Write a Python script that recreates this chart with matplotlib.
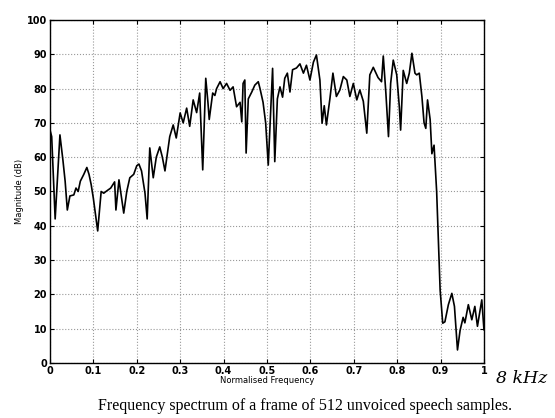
import numpy as np
import matplotlib
matplotlib.use('Agg')
import matplotlib.pyplot as plt

# spectrum values (normalised frequency, dB)
freq = [0.0, 0.004, 0.012, 0.023, 0.03, 0.035, 0.04, 0.046, 0.055, 0.06,
        0.065, 0.07, 0.078, 0.085, 0.09, 0.095, 0.1, 0.11, 0.118, 0.124,
        0.129, 0.14, 0.149, 0.152, 0.159, 0.17, 0.177, 0.184, 0.193, 0.2,
        0.205, 0.211, 0.219, 0.224, 0.23, 0.238, 0.245, 0.253, 0.259, 0.265,
        0.276, 0.284, 0.291, 0.3, 0.307, 0.315, 0.322, 0.33, 0.338, 0.345,
        0.352, 0.359, 0.364, 0.367, 0.375, 0.38, 0.384, 0.392, 0.399, 0.407,
        0.415, 0.422, 0.43, 0.438, 0.442, 0.445, 0.449, 0.452, 0.457, 0.465,
        0.472, 0.48, 0.484, 0.491, 0.497, 0.503, 0.513, 0.518, 0.524, 0.53,
        0.536, 0.541, 0.547, 0.553, 0.559, 0.568, 0.576, 0.584, 0.591, 0.599,
        0.607, 0.614, 0.622, 0.627, 0.632, 0.637, 0.645, 0.652, 0.66, 0.668,
        0.676, 0.684, 0.691, 0.699, 0.707, 0.714, 0.722, 0.73, 0.737, 0.745,
        0.756, 0.764, 0.768, 0.774, 0.78, 0.785, 0.791, 0.799, 0.805, 0.808,
        0.814, 0.822, 0.828, 0.834, 0.841, 0.845, 0.851, 0.857, 0.862, 0.866,
        0.87, 0.876, 0.88, 0.885, 0.891, 0.899, 0.905, 0.91, 0.918, 0.926,
        0.932, 0.939, 0.945, 0.952, 0.956, 0.964, 0.972, 0.979, 0.985, 0.995,
        1.0]
mag = [68, 66, 42, 66.5, 59, 53, 44.6, 48.7, 49, 51,
       50, 53, 55, 57, 55, 52, 48, 38.5, 50, 49.5,
       50, 51, 52.8, 44.6, 53.4, 43.7, 50, 54, 55, 57.5,
       58, 56, 49.5, 42, 62.7, 54, 60, 63, 60, 56,
       66, 69.4, 65.6, 72.9, 70, 74.3, 69, 76.7, 73, 78.7,
       56.3, 83, 76, 71, 78.7, 78, 80, 82, 80, 81.5,
       79.5, 80.5, 74.7, 76, 70.3, 81.5, 82.5, 61.2, 77, 79,
       81, 82, 80, 76, 70, 57.7, 85.9, 58.7, 77, 80.5,
       77.5, 83, 84.5, 79, 85.5, 86, 87.2, 84.5, 86.8, 82.5,
       87.7, 89.8, 82.5, 69.9, 75, 69.4, 77, 84.5, 77.7, 79.6,
       83.5, 82.5, 77.7, 81.5, 76.7, 79.6, 76.3, 67, 84, 86.2,
       83.2, 82, 89.5, 78.7, 66, 81.5, 88.3, 84, 74.7, 67.9,
       85.3, 81.5, 84.5, 90.3, 84.5, 84, 84.5, 77.7, 70, 68.4,
       76.7, 71, 61, 63.5, 50, 21.3, 11.6, 12, 17, 20.3,
       16.5, 3.8, 9.5, 13.3, 11.7, 17, 12.6, 16.5, 10.7, 18.4,
       9.7]

xticks = np.arange(0, 1.01, 0.1)
xlabels = ['0', '0.1', '0.2', '0.3', '0.4', '0.5', '0.6', '0.7', '0.8', '0.9', '1']
yticks = np.arange(0, 101, 10)

fig = plt.figure(figsize=(5.55, 4.18), dpi=100)
ax = fig.add_axes([0.090, 0.1316, 0.782, 0.8206])

ax.plot(freq, mag, color='black', linewidth=1.2)
ax.set_xlim(0, 1)
ax.set_ylim(0, 100)
ax.set_xticks(xticks)
ax.set_xticklabels(xlabels)
ax.set_yticks(yticks)
ax.grid(True, linestyle=':', color='#999999', linewidth=0.8)
ax.tick_params(direction='in', top=True, right=True, labelsize=7, length=3, pad=2)
for lab in ax.get_xticklabels() + ax.get_yticklabels():
    lab.set_fontweight('bold')
for s in ax.spines.values():
    s.set_linewidth(1.0)

ax.set_xlabel('Normalised Frequency', fontsize=6, labelpad=0)
ax.set_ylabel('Magnitude (dB)', fontsize=6, labelpad=2)

fig.text(0.55, 0.028, 'Frequency spectrum of a frame of 512 unvoiced speech samples.',
         ha='center', va='center', fontsize=11.5, family='Liberation Serif')
fig.text(0.893, 0.095, '8 kHz', ha='left', va='center', fontsize=12.5,
         family='DejaVu Serif', style='italic')

fig.savefig('out.png', dpi=100)
